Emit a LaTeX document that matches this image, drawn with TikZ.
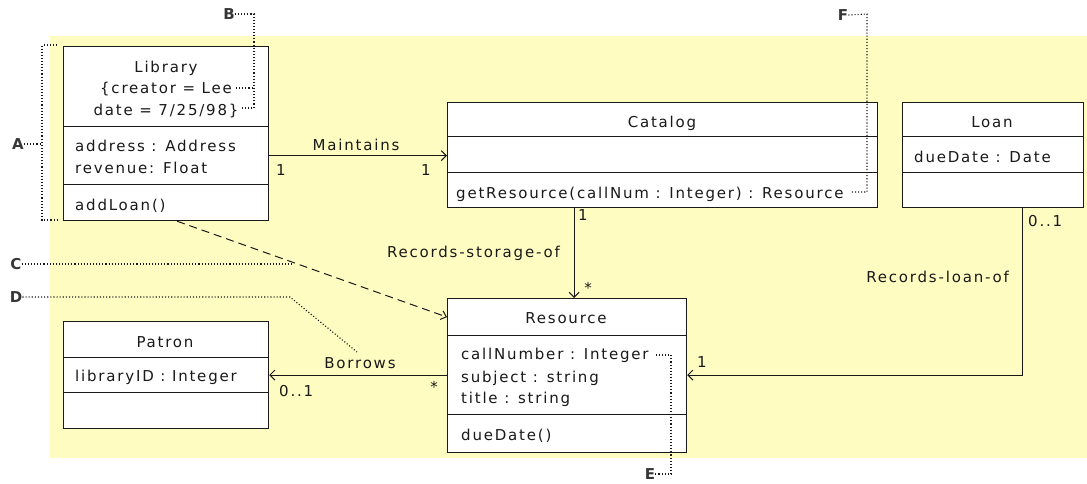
\documentclass[tikz,border=0pt]{standalone}
\usepackage{fontspec}
\setmainfont[LetterSpace=12]{DejaVu Sans}
\usetikzlibrary{arrows.meta,calc}
\definecolor{bgyellow}{RGB}{255,252,194}
\definecolor{ink}{RGB}{25,25,25}
\definecolor{lblink}{RGB}{55,55,55}
\newcommand\umlfont{\fontsize{15}{18}\selectfont}
\newcommand\lblfont{\fontsize{15}{17}\selectfont\bfseries}
\begin{document}
\begin{tikzpicture}[x=1pt,y=-1pt,
 comp/.style={draw=ink, line width=1.2pt, fill=white, rectangle, inner sep=0pt, anchor=north west},
 txt/.style={inner sep=0pt, font=\umlfont, text=ink},
 lbl/.style={inner sep=0pt, font=\lblfont, text=lblink},
 assoc/.style={draw=ink, line width=1pt, -{Straight Barb[length=5pt,width=10pt,line width=1pt]}},
 dep/.style={draw=ink, line width=1pt, dash pattern=on 8pt off 5pt, -{Straight Barb[length=5pt,width=9pt,line width=1pt]}},
 note/.style={draw=ink, line width=1.1pt, dash pattern=on 1.1pt off 2pt},
]
\useasboundingbox (0,0) rectangle (1087,483);
\fill[bgyellow] (50,36) rectangle (1087,458);

% Library
\node[comp,minimum width=205pt,minimum height=80pt] (libname) at (63,46) {};
\node[comp,minimum width=205pt,minimum height=58pt] (libattr) at (63,126) {};
\node[comp,minimum width=205pt,minimum height=36pt] (libops) at (63,184) {};
\node[txt,anchor=base] (tLib) at (166,72) {Library};
\node[txt,anchor=base] (tCreator) at (166,93) {\{creator = Lee};
\node[txt,anchor=base] (tDate) at (166,115) {date = 7/25/98\}};
\node[txt,anchor=base west] (tAddr) at (75,151) {address : Address};
\node[txt,anchor=base west] (tRev) at (75,173) {revenue: Float};
\node[txt,anchor=base west] (tAddLoan) at (75,210) {addLoan()};

% Catalog
\node[comp,minimum width=430pt,minimum height=34pt] (catname) at (447,102) {};
\node[comp,minimum width=430pt,minimum height=36pt] (catattr) at (447,136) {};
\node[comp,minimum width=430pt,minimum height=35pt] (catops) at (447,172) {};
\node[txt,anchor=base] (tCat) at (662,127) {Catalog};
\node[txt,anchor=base west] (tGet) at (456,198) {getResource(callNum : Integer) : Resource};

% Loan
\node[comp,minimum width=181pt,minimum height=34pt] (loanname) at (902,102) {};
\node[comp,minimum width=181pt,minimum height=36pt] (loanattr) at (902,136) {};
\node[comp,minimum width=181pt,minimum height=35pt] (loanops) at (902,172) {};
\node[txt,anchor=base] (tLoan) at (992,127) {Loan};
\node[txt,anchor=base west] (tDueDate) at (914,162) {dueDate : Date};

% Resource
\node[comp,minimum width=239pt,minimum height=37pt] (resname) at (447,298) {};
\node[comp,minimum width=239pt,minimum height=79pt] (resattr) at (447,335) {};
\node[comp,minimum width=239pt,minimum height=38pt] (resops) at (447,414) {};
\node[txt,anchor=base] (tRes) at (566,323) {Resource};
\node[txt,anchor=base west] (tCall) at (461,359) {callNumber : Integer};
\node[txt,anchor=base west] (tSubj) at (461,382) {subject : string};
\node[txt,anchor=base west] (tTitle) at (461,403) {title : string};
\node[txt,anchor=base west] (tDueM) at (461,440) {dueDate()};

% Patron
\node[comp,minimum width=205pt,minimum height=36pt] (patname) at (63,321) {};
\node[comp,minimum width=205pt,minimum height=35pt] (patattr) at (63,357) {};
\node[comp,minimum width=205pt,minimum height=36pt] (patops) at (63,392) {};
\node[txt,anchor=base] (tPat) at (165,347) {Patron};
\node[txt,anchor=base west] (tLibID) at (75,381) {libraryID : Integer};

% Maintains
\draw[assoc] (libattr.east) -- (libattr.east -| catattr.west);
\node[txt,anchor=base] (mMaint) at (356,150) {Maintains};
\node[txt,anchor=base] (mMaintA) at (281,175) {1};
\node[txt,anchor=base] (mMaintB) at (426,175) {1};

% Records-storage-of
\coordinate (rsTop) at ([xshift=7pt]resname.north);
\draw[assoc] (catops.south -| rsTop) -- (rsTop);
\node[txt,anchor=base east] (mStore) at (560,257) {Records-storage-of};
\node[txt,anchor=base] (mStoreA) at (583,220) {1};
\node[txt,anchor=base] (mStoreB) at (588,293) {*};

% Records-loan-of
\coordinate (lnBot) at ([xshift=29.5pt]loanops.south);
\draw[assoc] (lnBot) |- (resattr.east);
\node[txt,anchor=base west] (mLoanA) at (1028,226) {0..1};
\node[txt,anchor=base east] (mLoan) at (1009,282) {Records-loan-of};
\node[txt,anchor=base] (mLoanB) at (702,367) {1};

% Borrows
\draw[assoc] (resattr.west |- patattr.east) -- (patattr.east);
\node[txt,anchor=base] (mBor) at (360,368) {Borrows};
\node[txt,anchor=base west] (mBorA) at (279,396) {0..1};
\node[txt,anchor=base] (mBorB) at (434,392) {*};

% Dependency
\draw[dep] ([xshift=11pt]libops.south) -- (resname.west);

% Annotations
\node[lbl] (A) at (18,144) {A};
\draw[note] (A.east) -- (42,144);
\draw[note] (57,45) -- (42,45) -- (42,220) -- (57,220);
\node[lbl] (B) at (229,14) {B};
\draw[note] (B.east) -- (254,14) -- (254,108) -- (240,108);
\draw[note] (236,88) -- (254,88);
\node[lbl] (C) at (16,264) {C};
\draw[note] (C.east) -- (292,264);
\node[lbl] (D) at (16,297) {D};
\draw[note] (D.east) -- (290,297) -- (357,352);
\node[lbl] (E) at (650,474) {E};
\draw[note] (E.east) -- (671,474) -- (671,355) -- (656,355);
\node[lbl] (F) at (843,15) {F};
\draw[note] (F.east) -- (867,14) -- (867,192) -- (850,192);
\end{tikzpicture}
\end{document}
